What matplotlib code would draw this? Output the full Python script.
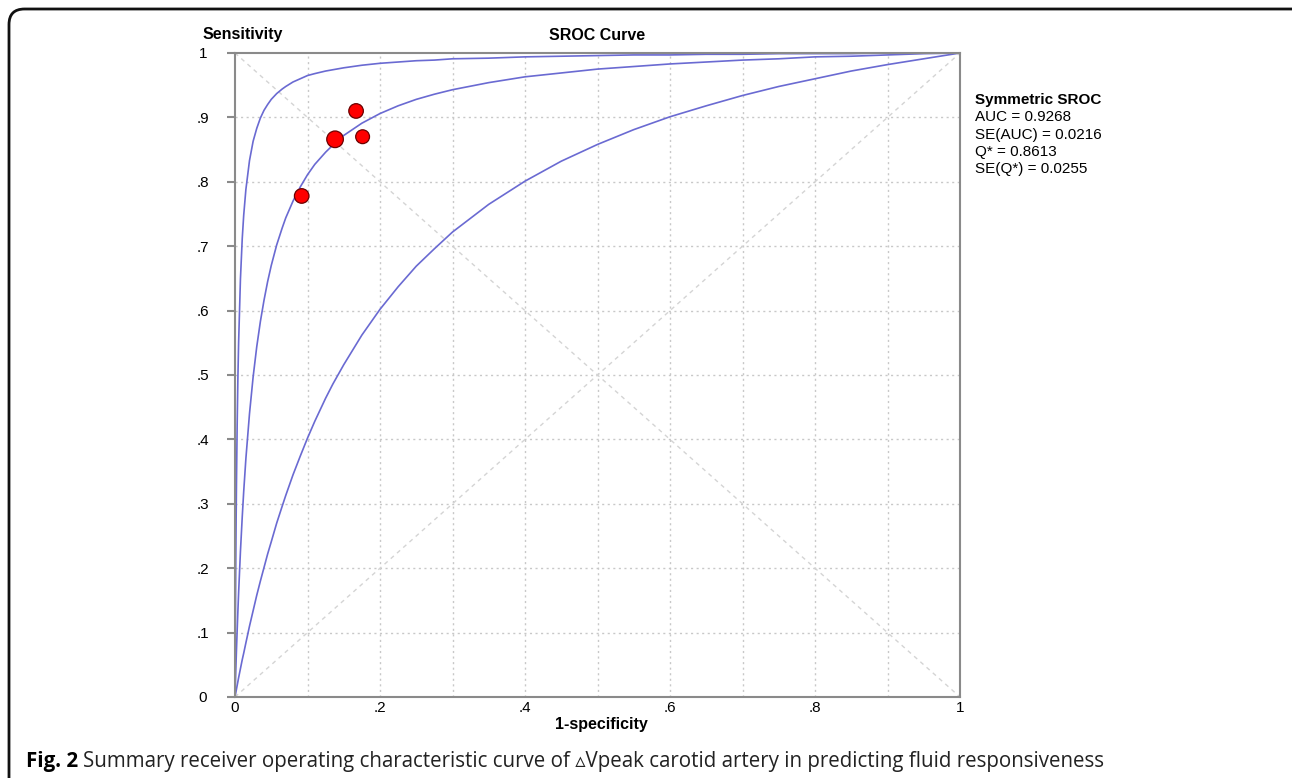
import numpy as np
import matplotlib.pyplot as plt
from matplotlib.patches import FancyBboxPatch

# study points (1-specificity, sensitivity) and relative study weight
study_fpr = [0.092, 0.138, 0.167, 0.176]
study_sens = [0.778, 0.866, 0.910, 0.870]
study_weight = [1.0, 1.3, 1.0, 0.9]

# SROC curves (upper bound, symmetric SROC, lower bound)
curve_x = [0.0, 0.0005, 0.001, 0.0015, 0.002, 0.003, 0.004, 0.005, 0.0075, 0.01,
           0.012, 0.015, 0.02, 0.025, 0.03, 0.035, 0.04, 0.045, 0.05, 0.0575,
           0.065, 0.07, 0.08, 0.09, 0.1, 0.11, 0.125, 0.135, 0.15, 0.175,
           0.2, 0.225, 0.25, 0.275, 0.3, 0.35, 0.4, 0.45, 0.5, 0.55,
           0.6, 0.65, 0.7, 0.75, 0.8, 0.85, 0.9, 0.95, 1.0]
upper_y = [0.0, 0.109, 0.197, 0.269, 0.329, 0.424, 0.496, 0.551, 0.649, 0.712,
           0.748, 0.788, 0.833, 0.863, 0.883, 0.899, 0.911, 0.920, 0.928, 0.937,
           0.944, 0.948, 0.955, 0.960, 0.965, 0.968, 0.972, 0.974, 0.977, 0.981,
           0.984, 0.986, 0.988, 0.989, 0.991, 0.992, 0.994, 0.995, 0.996, 0.997,
           0.997, 0.998, 0.998, 0.999, 0.999, 0.999, 1.0, 1.0, 1.0]
sroc_y = [0.0, 0.019, 0.037, 0.055, 0.072, 0.104, 0.134, 0.162, 0.226, 0.280,
          0.319, 0.370, 0.440, 0.497, 0.544, 0.583, 0.616, 0.645, 0.670, 0.702,
          0.728, 0.744, 0.770, 0.792, 0.811, 0.827, 0.846, 0.857, 0.872, 0.891,
          0.906, 0.918, 0.928, 0.936, 0.943, 0.954, 0.963, 0.969, 0.975, 0.979,
          0.983, 0.986, 0.989, 0.991, 0.994, 0.995, 0.997, 0.999, 1.0]
lower_y = [0.0, 0.003, 0.006, 0.009, 0.012, 0.018, 0.024, 0.030, 0.044, 0.058,
           0.068, 0.084, 0.110, 0.134, 0.158, 0.180, 0.201, 0.222, 0.241, 0.270,
           0.296, 0.313, 0.345, 0.374, 0.402, 0.428, 0.464, 0.486, 0.516, 0.562,
           0.602, 0.637, 0.669, 0.696, 0.722, 0.765, 0.801, 0.832, 0.858, 0.881,
           0.901, 0.918, 0.934, 0.948, 0.960, 0.972, 0.982, 0.991, 1.0]

xticks = [0, 0.2, 0.4, 0.6, 0.8, 1.0]
xtick_labels = ['0', '.2', '.4', '.6', '.8', '1']
yticks = [0, 0.1, 0.2, 0.3, 0.4, 0.5, 0.6, 0.7, 0.8, 0.9, 1.0]
ytick_labels = ['0', '.1', '.2', '.3', '.4', '.5', '.6', '.7', '.8', '.9', '1']

stats_lines = ['AUC = 0.9268', 'SE(AUC) = 0.0216', 'Q* = 0.8613', 'SE(Q*) = 0.0255']

plt.rcParams['font.family'] = ['Liberation Sans', 'DejaVu Sans']

W, H = 1292, 778
fig = plt.figure(figsize=(W / 100, H / 100), dpi=100)
ax = fig.add_axes([235 / W, 1 - 697 / H, 725 / W, 644 / H])

line_col = '#6a6ad2'
grid_col = '#c8c8c8'

# grid and diagonals
for v in np.arange(0.1, 1.0, 0.1):
    ax.axvline(v, color=grid_col, lw=1, ls=(0, (1.5, 2.5)), zorder=0)
    ax.axhline(v, color=grid_col, lw=1, ls=(0, (1.5, 2.5)), zorder=0)
ax.plot([0, 1], [0, 1], color='#d4d4d4', lw=1, ls=(0, (3, 3)), zorder=0)
ax.plot([0, 1], [1, 0], color='#d4d4d4', lw=1, ls=(0, (3, 3)), zorder=0)

for ys in (upper_y, sroc_y, lower_y):
    ax.plot(curve_x, ys, color=line_col, lw=1.2, zorder=2)

sizes = [110 * w for w in study_weight]
ax.scatter(study_fpr, study_sens, s=sizes, color='#ff0000', edgecolor='#6b0000',
           linewidth=0.9, zorder=3)

ax.set_xlim(0, 1)
ax.set_ylim(0, 1)
for sp in ax.spines.values():
    sp.set_color('#8a8a8a')
    sp.set_linewidth(1.5)

ax.set_xticks(xticks)
ax.set_xticklabels(xtick_labels, fontsize=11)
ax.set_yticks(yticks)
ax.set_yticklabels(ytick_labels, fontsize=11, ha='center')
ax.tick_params(axis='x', length=0, pad=3)
ax.tick_params(axis='y', length=6, width=1.5, color='#8a8a8a', pad=17)

fig.text(243 / W, 1 - 35 / H, 'Sensitivity', fontsize=11.5, fontweight='bold',
         ha='center', va='center')
fig.text(597 / W, 1 - 35 / H, 'SROC Curve', fontsize=11.5, fontweight='bold',
         ha='center', va='center')
fig.text(601 / W, 1 - 725 / H, '1-specificity', fontsize=11.5, fontweight='bold',
         ha='center', va='center')

fig.text(975 / W, 1 - 100 / H, 'Symmetric SROC', fontsize=11, fontweight='bold',
         ha='left', va='center')
for i, s in enumerate(stats_lines):
    fig.text(975 / W, 1 - (117 + 17.5 * i) / H, s, fontsize=11, ha='left', va='center')

# caption
cap_font = ['Open Sans', 'DejaVu Sans']
t1 = fig.text(26 / W, 1 - 767 / H, 'Fig. 2', fontsize=14.8, fontweight='bold',
              family=cap_font, ha='left', va='baseline')
fig.canvas.draw()
bb = t1.get_window_extent(fig.canvas.get_renderer())
fig.text((bb.x1 + 5) / W, 1 - 767 / H,
         'Summary receiver operating characteristic curve of \u25b5Vpeak carotid artery '
         'in predicting fluid responsiveness',
         fontsize=14.8, family=cap_font, ha='left', va='baseline', color='#222222')

# rounded frame around the figure
frame = FancyBboxPatch((9 / W, -20 / H), (W + 20) / W, (H + 11) / H,
                       boxstyle='round,pad=0,rounding_size=0.012',
                       transform=fig.transFigure, fill=False, ec='#111111', lw=2,
                       mutation_aspect=W / H)
fig.patches.append(frame)

fig.savefig('out.png', dpi=100)
